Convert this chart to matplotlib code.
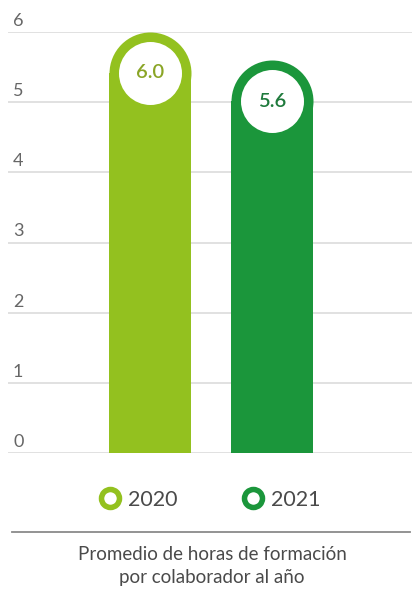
import matplotlib.pyplot as plt
from matplotlib.lines import Line2D

plt.rcParams['font.family'] = ['Lato', 'DejaVu Sans']

years = ['2020', '2021']
values = [6.0, 5.6]
labels = ['6.0', '5.6']
colors = ['#93c11f', '#1b963b']
label_colors = ['#8aa526', '#1f7a3c']
yticks = [0, 1, 2, 3, 4, 5, 6]
caption = 'Promedio de horas de formación\npor colaborador al año'

W, H = 412, 590
fig = plt.figure(figsize=(W / 100, H / 100), dpi=100)
ax = fig.add_axes([8 / W, (H - 453) / H, 404 / W, (453 - 32) / H])
ax.set_xlim(-1.164, 2.148)
ax.set_ylim(0, 6)
ax.axis('off')

# grid + labels sitting above each line
for t in yticks:
    ax.axhline(t, color='#dedede', lw=1.3, zorder=0)
    ax.annotate(str(t), (0, t), xycoords=ax.get_yaxis_transform(),
                xytext=(5, 3), textcoords='offset pixels',
                ha='left', va='bottom', fontsize=13, color='#666666')

# pixel sizes -> data units
bar_px = 82
px_per_x = ax.transData.transform((1, 0))[0] - ax.transData.transform((0, 0))[0]
px_per_y = ax.transData.transform((0, 1))[1] - ax.transData.transform((0, 0))[1]
bw = bar_px / px_per_x
ry = (bar_px / 2) / px_per_y

for i, (v, c, lab, lc) in enumerate(zip(values, colors, labels, label_colors)):
    ax.bar(i, v - ry, width=bw, color=c, zorder=2)
    ax.plot(i, v - ry, marker='o', ms=bar_px * 0.72, color=c, mec='none', zorder=2)
    ax.plot(i, v - ry, marker='o', ms=63 * 0.72, color='white', mec='none', zorder=3)
    ax.text(i, v - ry, lab, ha='center', va='center', fontsize=14.5,
            fontweight='semibold', color=lc, zorder=4)

handles = [Line2D([], [], ls='none', marker='o', ms=18 * 0.72, mfc='white', mec=c,
                  mew=5.5 * 0.72)
           for c in colors]
fig.legend(handles, years, loc='center', bbox_to_anchor=(0.51, 1 - 500 / H), ncol=2,
           frameon=False, handletextpad=0.35, columnspacing=3.0,
           labelcolor='#4a4a4a', handlelength=1.0, prop={'size': 15.5})

fig.add_artist(Line2D([12 / W, 410 / W], [1 - 532 / H] * 2, color='#8a8a8a', lw=1.3))
fig.text(0.515, 1 - 566 / H, caption, ha='center', va='center', fontsize=13.5,
         color='#4a4a4a', linespacing=1.4)

fig.savefig('out.png', dpi=100)
